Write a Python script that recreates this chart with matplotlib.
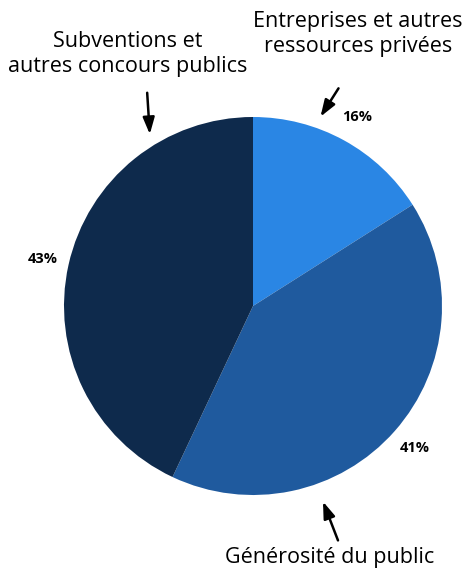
import numpy as np
import matplotlib.pyplot as plt

# sources de financement (%)
labels = ['Entreprises et autres\nressources privées',
          'Générosité du public',
          'Subventions et\nautres concours publics']
values = [16, 41, 43]
colors = ['#2A86E4', '#1F5A9E', '#0E2A4C']

plt.rcParams['font.family'] = ['Open Sans', 'DejaVu Sans']

W, H = 467, 571
fig = plt.figure(figsize=(W / 100, H / 100), dpi=100)
ax = fig.add_axes([0, 0, 1, 1])

wedges, texts, pcts = ax.pie(values, colors=colors, startangle=90, counterclock=False,
                             center=(253, H - 306), radius=189,
                             autopct='%d%%', pctdistance=1.14,
                             wedgeprops=dict(linewidth=0), frame=True)
for t in pcts:
    t.set_fontsize(10.5)
    t.set_fontweight('bold')
    t.set_color('black')

ax.set_xlim(0, W)
ax.set_ylim(0, H)
ax.set_aspect('equal')
ax.axis('off')

# étiquettes avec flèches
arrow = dict(arrowstyle='-|>,head_width=0.35,head_length=1.0', color='black', lw=1.8)
ax.annotate('', xy=(319, H - 119), xytext=(340, H - 86), arrowprops=arrow)
ax.annotate('', xy=(150, H - 137), xytext=(147, H - 90), arrowprops=arrow)
ax.annotate('', xy=(322, H - 499), xytext=(339, H - 543), arrowprops=arrow)

ax.text(358, H - 34, labels[0], ha='center', va='center', fontsize=15.5, linespacing=1.3)
ax.text(128, H - 54, labels[2], ha='center', va='center', fontsize=15.5, linespacing=1.3)
ax.text(330, H - 557, labels[1], ha='center', va='center', fontsize=15.5)

fig.savefig('out.png', dpi=100)
